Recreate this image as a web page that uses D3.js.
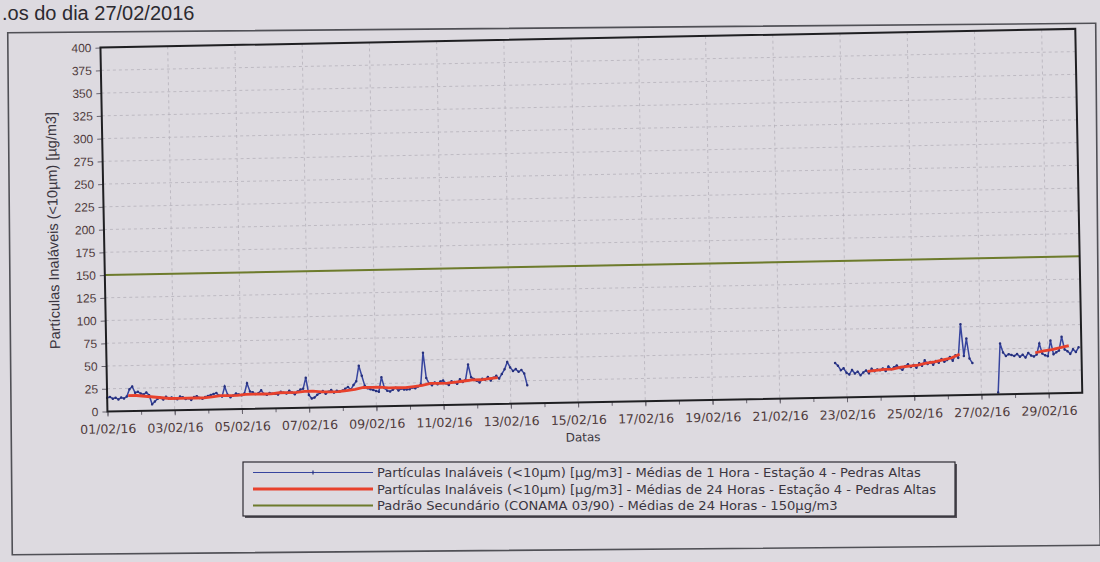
<!DOCTYPE html>
<html lang="pt">
<head>
<meta charset="utf-8">
<title>Partículas Inaláveis - Estação 4 - Pedras Altas</title>
<script src="https://cdn.jsdelivr.net/npm/d3@7"></script>
<style>
  body { margin: 0; background: #dddae0; }
  svg text { font-family: 'DejaVu Sans', Verdana, sans-serif; }
</style>
</head>
<body>
<div id="chart"></div>
<script>
// ---- data ----
const xTickLabels = ['01/02/16', '03/02/16', '05/02/16', '07/02/16', '09/02/16', '11/02/16', '13/02/16',
  '15/02/16', '17/02/16', '19/02/16', '21/02/16', '23/02/16', '25/02/16', '27/02/16', '29/02/16']
const yTickValues = [0, 25, 50, 75, 100, 125, 150, 175, 200, 225, 250, 275, 300, 325, 350, 375, 400]
const domainDates = ['01/02/16', '01/03/16']

// 1-hour means, read every 2 hours (12 values a day), null = no data
const hourlyStart = '2016-02-01 00:00'
const hourlyStepHours = 2
const hourlyValues = [
  15, 16, 14, 15, 13, 15, 14, 16, 24, 27, 20, 21, // 01/02
  19, 18, 20, 17, 7, 10, 13, 14, 12, 15, 13, 14, // 02/02
  13, 12, 15, 14, 12, 13, 11, 14, 15, 13, 12, 14, // 03/02
  15, 16, 17, 18, 15, 14, 25, 16, 13, 15, 17, 16, // 04/02
  15, 17, 28, 19, 18, 16, 17, 20, 16, 15, 17, 16, // 05/02
  16, 15, 18, 17, 16, 19, 17, 15, 18, 20, 21, 33, // 06/02
  14, 10, 11, 14, 16, 18, 15, 17, 19, 16, 18, 17, // 07/02
  18, 20, 22, 19, 24, 28, 45, 34, 23, 20, 19, 18, // 08/02
  17, 16, 32, 20, 17, 16, 18, 20, 17, 19, 18, 18, // 09/02
  18, 20, 19, 21, 23, 58, 30, 24, 22, 25, 23, 26, // 10/02
  27, 24, 22, 26, 25, 23, 28, 25, 27, 44, 30, 28, // 11/02
  26, 24, 28, 27, 30, 26, 29, 31, 28, 33, 38, 46, // 12/02
  40, 36, 38, 35, 37, 33, 20, null, null, null, null, null, // 13/02
  null, null, null, null, null, null, null, null, null, null, null, null, // 14/02
  null, null, null, null, null, null, null, null, null, null, null, null, // 15/02
  null, null, null, null, null, null, null, null, null, null, null, null, // 16/02
  null, null, null, null, null, null, null, null, null, null, null, null, // 17/02
  null, null, null, null, null, null, null, null, null, null, null, null, // 18/02
  null, null, null, null, null, null, null, null, null, null, null, null, // 19/02
  null, null, null, null, null, null, null, null, null, null, null, null, // 20/02
  null, null, null, null, null, null, null, null, null, null, null, null, // 21/02
  null, null, null, null, null, null, null, null, 38, 35, 30, 32, // 22/02
  27, 25, 30, 26, 28, 24, 27, 29, 26, 31, 28, 30, // 23/02
  29, 31, 28, 33, 30, 32, 34, 31, 29, 33, 35, 32, // 24/02
  34, 31, 36, 33, 39, 35, 37, 34, 38, 36, 40, 37, // 25/02
  39, 42, 38, 44, 41, 78, 43, 62, 40, 35, null, null, // 26/02
  null, null, null, null, null, null, 2, 56, 46, 42, 44, 43, // 27/02
  42, 44, 41, 43, 40, 45, 42, 41, 43, 55, 44, 42, // 28/02
  41, 58, 43, 45, 47, 62, 48, 46, 43, 48, 45, 50 // 29/02
]

// 24-hour means, read every 6 hours
const mean24Start = '2016-02-01 15:00'
const mean24StepHours = 6
const mean24Values = [
  17, 17, 16, 15, 14, 13, 13, 13, 13, 13, 14, 15, 15, 15, 16, 16, 16, 16, 17, 17,
  17, 18, 18, 17, 17, 17, 18, 19, 21, 21, 21, 20, 20, 20, 21, 22, 24, 24, 24, 25,
  26, 27, 27, 28, 29,
  null, null, null, null, null, null, null, null, null, null, null, null, null, null, null,
  null, null, null, null, null, null, null, null, null, null, null, null, null, null, null,
  null, null, null, null, null, null, null, null, null, null, null, null, null,
  28, 29, 30, 30, 32, 33, 34, 36, 37, 39, 41, 45,
  null, null, null, null, null, null, null, null,
  45, 47, 48, 50, 52
]

const standardValue = 150

const yTitle = 'Partículas Inaláveis (<10µm) [µg/m3]'
const xTitle = 'Datas'
const legendLabels = [
  'Partículas Inaláveis (<10µm) [µg/m3] - Médias de 1 Hora - Estação 4 - Pedras Altas',
  'Partículas Inaláveis (<10µm) [µg/m3] - Médias de 24 Horas - Estação 4 - Pedras Altas',
  'Padrão Secundário (CONAMA 03/90) - Médias de 24 Horas - 150µg/m3'
]
const topCaption = '.os do dia 27/02/2016'

// ---- build ----
const parseDay = d3.timeParse('%d/%m/%y')
const parseTime = d3.timeParse('%Y-%m-%d %H:%M')

function toSeries (start, step, values) {
  const t0 = parseTime(start)
  return values.map((v, i) => ({ t: d3.timeHour.offset(t0, i * step), v: v }))
}
const hourly = toSeries(hourlyStart, hourlyStepHours, hourlyValues)
const mean24 = toSeries(mean24Start, mean24StepHours, mean24Values)
const xDomain = domainDates.map(parseDay)
const standard = xDomain.map(t => ({ t: t, v: standardValue }))

const width = 1100
const height = 562
const plot = { left: 105, right: 1080, top: 39, bottom: 403 }

const colors = {
  paper: '#dddae0',
  frame: '#1f1f22',
  grid: '#b6b2bb',
  tickText: '#4f3a3c',
  text: '#3b3640',
  hourly: '#36449e',
  hourlyDot: '#26307c',
  mean24: '#e8412c',
  standard: '#6d7b2c'
}

const svg = d3.select('#chart').append('svg')
  .attr('width', width)
  .attr('height', height)

svg.append('rect')
  .attr('width', width)
  .attr('height', height)
  .attr('fill', colors.paper)

// caption left over from the page above the chart
svg.append('text')
  .attr('x', 2)
  .attr('y', 20)
  .style('font-family', "'Liberation Sans', Arial, sans-serif")
  .style('font-size', '20px')
  .attr('fill', '#2c2a30')
  .text(topCaption)

// outer page frame
svg.append('g')
  .attr('transform', 'rotate(-0.5, 554, 290)')
  .append('rect')
  .attr('x', 10).attr('y', 28)
  .attr('width', 1088).attr('height', 522)
  .attr('fill', 'none')
  .attr('stroke', '#505056')
  .attr('stroke-width', 1.6)

// the chart itself, slightly tilted like the photographed sheet
const g = svg.append('g').attr('transform', 'rotate(-1.1, 550, 280)')

const x = d3.scaleTime().domain(xDomain).range([plot.left, plot.right])
const y = d3.scaleLinear().domain([0, 400]).range([plot.bottom, plot.top])

const xTickDates = xTickLabels.map(parseDay)

// grid
g.append('g')
  .selectAll('line')
  .data(yTickValues.filter(v => v > 0 && v < 400))
  .join('line')
  .attr('x1', plot.left).attr('x2', plot.right)
  .attr('y1', d => y(d)).attr('y2', d => y(d))
  .attr('stroke', colors.grid)
  .attr('stroke-width', 0.8)
  .attr('stroke-dasharray', '3,3')

g.append('g')
  .selectAll('line')
  .data(xTickDates.slice(1))
  .join('line')
  .attr('x1', d => x(d)).attr('x2', d => x(d))
  .attr('y1', plot.top).attr('y2', plot.bottom)
  .attr('stroke', colors.grid)
  .attr('stroke-width', 0.8)
  .attr('stroke-dasharray', '3,3')

// axes
const yAxis = g.append('g')
  .attr('transform', `translate(${plot.left},0)`)
  .call(d3.axisLeft(y).tickValues(yTickValues).tickSize(5).tickPadding(4))
yAxis.select('.domain').remove()
yAxis.selectAll('line').attr('stroke', '#6a6670')
yAxis.selectAll('text')
  .style('font-family', "'Liberation Sans', Arial, sans-serif")
  .style('font-size', '12px')
  .attr('fill', colors.tickText)

const xMinor = g.append('g')
  .attr('transform', `translate(0,${plot.bottom})`)
  .call(d3.axisBottom(x).tickValues(d3.timeDay.range(xDomain[0], xDomain[1])).tickSize(4).tickFormat(''))
xMinor.select('.domain').remove()
xMinor.selectAll('line').attr('stroke', '#6a6670')

const xAxis = g.append('g')
  .attr('transform', `translate(0,${plot.bottom})`)
  .call(d3.axisBottom(x).tickValues(xTickDates).tickSize(5).tickPadding(8)
    .tickFormat((d, i) => xTickLabels[i]))
xAxis.select('.domain').remove()
xAxis.selectAll('line').attr('stroke', '#6a6670')
xAxis.selectAll('text')
  .style('font-size', '12.5px')
  .attr('fill', colors.tickText)

// series
const line = d3.line()
  .defined(d => d.v !== null)
  .x(d => x(d.t))
  .y(d => y(d.v))

g.append('path')
  .datum(standard)
  .attr('d', line)
  .attr('fill', 'none')
  .attr('stroke', colors.standard)
  .attr('stroke-width', 2)

g.append('path')
  .datum(hourly)
  .attr('d', line)
  .attr('fill', 'none')
  .attr('stroke', colors.hourly)
  .attr('stroke-width', 1.5)

g.append('g')
  .selectAll('circle')
  .data(hourly.filter(d => d.v !== null))
  .join('circle')
  .attr('cx', d => x(d.t))
  .attr('cy', d => y(d.v))
  .attr('r', 1.25)
  .attr('fill', colors.hourlyDot)

g.append('path')
  .datum(mean24)
  .attr('d', line)
  .attr('fill', 'none')
  .attr('stroke', colors.mean24)
  .attr('stroke-width', 2.8)

// plot frame
g.append('rect')
  .attr('x', plot.left).attr('y', plot.top)
  .attr('width', plot.right - plot.left)
  .attr('height', plot.bottom - plot.top)
  .attr('fill', 'none')
  .attr('stroke', colors.frame)
  .attr('stroke-width', 2)

// titles
g.append('text')
  .attr('x', 580)
  .attr('y', 442)
  .attr('text-anchor', 'middle')
  .style('font-size', '12px')
  .attr('fill', colors.text)
  .text(xTitle)

g.append('text')
  .attr('transform', `translate(59,${(plot.top + plot.bottom) / 2}) rotate(-90)`)
  .attr('text-anchor', 'middle')
  .style('font-family', "'Liberation Sans', Arial, sans-serif")
  .style('font-size', '14.5px')
  .attr('fill', colors.text)
  .text(yTitle)

// legend (kept level so its rows do not run into each other)
const legendBox = { x: 243, y: 462, w: 712, h: 54 }
const legend = svg.append('g')
legend.append('rect')
  .attr('x', legendBox.x + 2).attr('y', legendBox.y + 2)
  .attr('width', legendBox.w).attr('height', legendBox.h)
  .attr('fill', '#55525a')
legend.append('rect')
  .attr('x', legendBox.x).attr('y', legendBox.y)
  .attr('width', legendBox.w).attr('height', legendBox.h)
  .attr('fill', colors.paper)
  .attr('stroke', '#2e2c32')
  .attr('stroke-width', 1.2)

const legendItems = [
  { label: legendLabels[0], color: colors.hourly, width: 1.2, marker: true },
  { label: legendLabels[1], color: colors.mean24, width: 2.8, marker: false },
  { label: legendLabels[2], color: colors.standard, width: 2, marker: false }
]
const rows = legend.selectAll('g.row')
  .data(legendItems)
  .join('g')
  .attr('class', 'row')
  .attr('transform', (d, i) => `translate(0,${legendBox.y + 10.5 + i * 16.5})`)

rows.append('line')
  .attr('x1', 253).attr('x2', 373)
  .attr('stroke', d => d.color)
  .attr('stroke-width', d => d.width)
rows.filter(d => d.marker).append('path')
  .attr('d', 'M313,-2V2')
  .attr('stroke', colors.hourlyDot)
  .attr('stroke-width', 1.2)
rows.append('text')
  .attr('x', 377)
  .attr('dy', '0.35em')
  .style('font-size', '13.1px')
  .attr('fill', colors.text)
  .text(d => d.label)
</script>
</body>
</html>
